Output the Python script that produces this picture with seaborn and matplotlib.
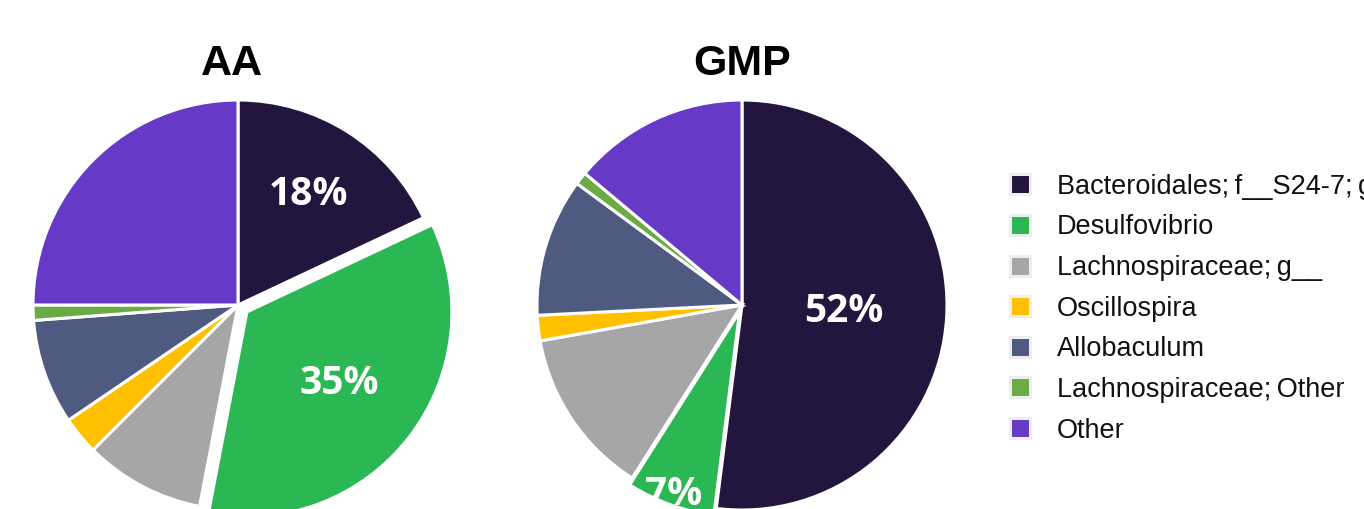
import matplotlib
matplotlib.use("Agg")
import matplotlib.pyplot as plt
import seaborn as sns
import numpy as np
from matplotlib.lines import Line2D

sns.set_theme(style="white")
plt.rcParams['font.family'] = ['Liberation Sans', 'DejaVu Sans']

categories = ["Bacteroidales;\u2009f__S24-7;\u2009g__", "Desulfovibrio", "Lachnospiraceae;\u2009g__",
              "Oscillospira", "Allobaculum", "Lachnospiraceae;\u2009Other", "Other"]
aa_values = [18, 35, 9.5, 3.0, 8.3, 1.2, 25.0]
gmp_values = [52, 7, 13.2, 2.0, 10.9, 1.0, 13.9]
titles = ["AA", "GMP"]
colors = sns.color_palette(["#22163f", "#2bb854", "#a6a6a6", "#ffc000",
                            "#4e5a80", "#6aab45", "#6639c7"])

W, H = 1364, 509
fig = plt.figure(figsize=(W / 100, H / 100), dpi=100)

R = 205
LIM = 1.35
centers = [(238, 305), (742, 305)]
explodes = [[0, 0.055, 0, 0, 0, 0, 0], [0, 0.035, 0, 0, 0, 0, 0]]
label_dist = [[0.64, 0.57], [0.5, 0.95]]

for k, (vals, title) in enumerate(zip([aa_values, gmp_values], titles)):
    cx, cy = centers[k]
    half = R * LIM
    ax = fig.add_axes([(cx - half) / W, (H - cy - half) / H, 2 * half / W, 2 * half / H])
    wedges, _ = ax.pie(vals, colors=colors, startangle=90, counterclock=False,
                       explode=explodes[k], radius=1,
                       wedgeprops=dict(edgecolor="white", linewidth=2.2))
    ax.set_xlim(-LIM, LIM)
    ax.set_ylim(-LIM, LIM)
    ax.set_aspect("equal")
    ax.axis("off")
    for j in range(2):
        w = wedges[j]
        ang = np.deg2rad((w.theta1 + w.theta2) / 2)
        ox, oy = w.center
        d = label_dist[k][j]
        ax.text(ox + d * np.cos(ang), oy + d * np.sin(ang), f"{vals[j]:.0f}%",
                color="white", fontsize=28, fontweight="bold", family="Open Sans",
                ha="center", va="center")
    fig.text((cx - 6 + 6 * k) / W, (H - 64) / H, title, fontsize=31, fontweight="bold",
             color="black", ha="center", va="center")

handles = [Line2D([0], [0], marker="s", linestyle="", markersize=14.5,
                  markerfacecolor=c, markeredgecolor="#eeeeee", markeredgewidth=2.2)
           for c in colors]
fig.legend(handles, categories, loc="upper left", bbox_to_anchor=(996 / W, 1 - 163 / H),
           frameon=False, fontsize=19.5, handletextpad=0.85, labelspacing=0.54,
           handlelength=1.0, borderaxespad=0, labelcolor="#111111")

fig.savefig("out.png", dpi=100)
